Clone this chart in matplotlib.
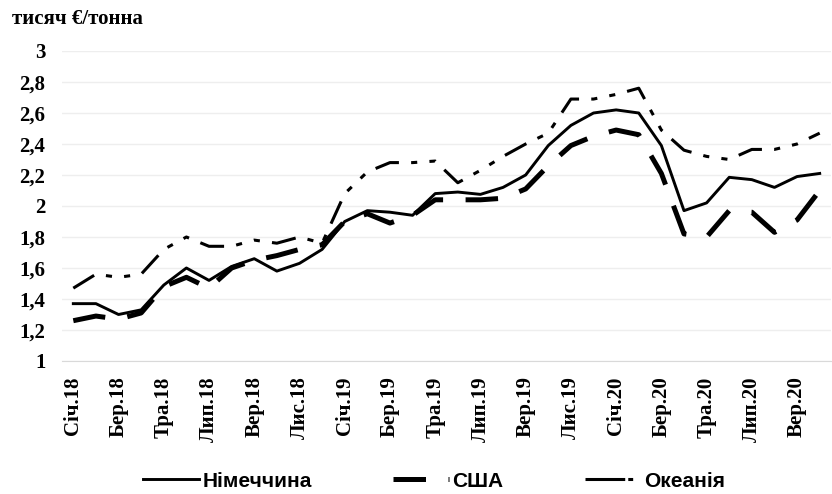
import matplotlib.pyplot as plt
from matplotlib.lines import Line2D

# місяці січ.18 - жов.20
months = ['Січ.18', 'Лют.18', 'Бер.18', 'Кві.18', 'Тра.18', 'Чер.18', 'Лип.18', 'Сер.18',
          'Вер.18', 'Жов.18', 'Лис.18', 'Гру.18',
          'Січ.19', 'Лют.19', 'Бер.19', 'Кві.19', 'Тра.19', 'Чер.19', 'Лип.19', 'Сер.19',
          'Вер.19', 'Жов.19', 'Лис.19', 'Гру.19',
          'Січ.20', 'Лют.20', 'Бер.20', 'Кві.20', 'Тра.20', 'Чер.20', 'Лип.20', 'Сер.20',
          'Вер.20', 'Жов.20']

germany = [1.37, 1.37, 1.30, 1.33, 1.49, 1.60, 1.52, 1.61, 1.66, 1.58, 1.63, 1.72,
           1.90, 1.97, 1.96, 1.94, 2.08, 2.09, 2.075, 2.12, 2.20, 2.39, 2.52, 2.60,
           2.62, 2.60, 2.39, 1.97, 2.02, 2.185, 2.17, 2.12, 2.19, 2.21]
usa = [1.26, 1.29, 1.27, 1.31, 1.48, 1.54, 1.47, 1.60, 1.65, 1.68, 1.72, 1.75,
       1.90, 1.95, 1.89, 1.94, 2.04, 2.04, 2.04, 2.05, 2.11, 2.26, 2.39, 2.45,
       2.49, 2.46, 2.21, 1.82, 1.80, 1.97, 1.96, 1.83, 1.91, 2.10]
oceania = [1.47, 1.56, 1.54, 1.56, 1.72, 1.80, 1.74, 1.74, 1.78, 1.76, 1.80, 1.76,
           2.08, 2.22, 2.28, 2.28, 2.29, 2.15, 2.23, 2.32, 2.40, 2.47, 2.69, 2.69,
           2.72, 2.76, 2.49, 2.36, 2.32, 2.30, 2.365, 2.365, 2.40, 2.47]

y_ticks = [1, 1.2, 1.4, 1.6, 1.8, 2, 2.2, 2.4, 2.6, 2.8, 3]
y_labels = ['1', '1,2', '1,4', '1,6', '1,8', '2', '2,2', '2,4', '2,6', '2,8', '3']
series_names = ['Німеччина', 'США', 'Океанія']

serif = 'Liberation Serif'
narrow = ['Liberation Sans Narrow', 'Liberation Sans']

fig = plt.figure(figsize=(8.32, 4.94), dpi=100)
ax = fig.add_axes([62/832, 1-361/494, (831-62)/832, (361-51)/494])

x = list(range(len(months)))
ax.plot(x, germany, color='black', lw=2.1, solid_joinstyle='round')
ax.plot(x, usa, color='black', lw=3.6, dashes=(6.5, 4.5), dash_capstyle='butt')
ax.plot(x, oceania, color='black', lw=2.2, dashes=(8, 4.0, 2.0, 4.0, 2.0, 4.0))

ax.set_xlim(-0.5, len(months) - 0.5)
ax.set_ylim(1, 3)
ax.set_yticks(y_ticks)
ax.set_yticklabels(y_labels, fontfamily=serif, fontweight='bold', fontsize=15)
ax.set_xticks(x[::2])
ax.set_xticklabels(months[::2], rotation=90, fontfamily=serif, fontweight='bold', fontsize=15)
ax.tick_params(axis='y', length=0, pad=12)
ax.tick_params(axis='x', length=0, pad=11)

ax.grid(axis='y', color='#eeeeee', lw=1)
ax.set_axisbelow(True)
for s in ['top', 'right', 'left']:
    ax.spines[s].set_visible(False)
ax.spines['bottom'].set_color('#d9d9d9')

fig.text(12/832, 1-19/494, 'тисяч €/тонна', fontfamily=serif, fontweight='bold',
         fontsize=15, va='center', ha='left')

# легенда
h = [Line2D([], [], color='black', lw=2.1),
     Line2D([], [], color='black', lw=3.6, dashes=(6.5, 4.5), dash_capstyle='butt'),
     Line2D([], [], color='black', lw=2.2, dashes=(13, 1, 1.6, 8))]
fig.legend(h, series_names, loc='center', bbox_to_anchor=(434/832, 1-481/494), ncol=3,
           frameon=False, handlelength=2.7, handletextpad=0.15, columnspacing=3.9,
           prop={'family': narrow, 'weight': 'bold', 'size': 15})

fig.savefig('out.png', dpi=100)
